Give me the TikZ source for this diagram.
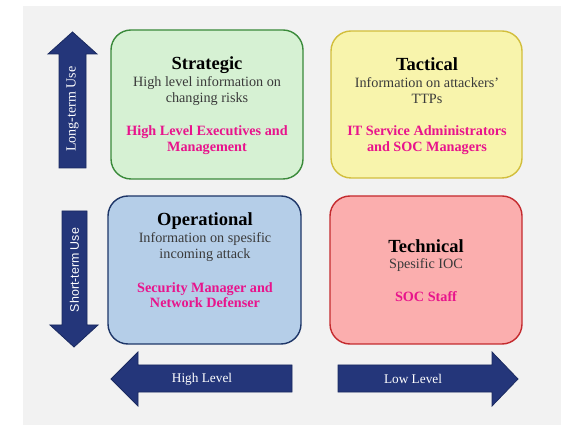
\documentclass[tikz,border=0pt]{standalone}
\usepackage{fontspec}
\setmainfont{Liberation Serif}
\setsansfont{Liberation Sans}
\definecolor{bggray}{HTML}{F2F2F2}
\definecolor{navy}{HTML}{24367A}
\definecolor{navyd}{HTML}{1A2A60}
\definecolor{gfill}{HTML}{D6F1D3}
\definecolor{gdraw}{HTML}{3A8A3A}
\definecolor{yfill}{HTML}{F8F4AC}
\definecolor{ydraw}{HTML}{D2BE3C}
\definecolor{bfill}{HTML}{B5CEE8}
\definecolor{bdraw}{HTML}{1E3668}
\definecolor{rfill}{HTML}{FBAEAE}
\definecolor{rdraw}{HTML}{C42A2E}
\definecolor{magenta}{HTML}{E8148C}
\definecolor{infotext}{HTML}{3A3A3A}
\tikzset{
  quad/.style={rounded corners=20pt, line width=1.4pt},
  bigarrow/.style={fill=navy, draw=navyd, line width=0.8pt},
  title/.style={font=\fontsize{18.5}{20}\selectfont\bfseries, text=black, inner sep=0pt},
  info/.style={font=\fontsize{14.2}{16}\selectfont, text=infotext, align=center, inner sep=0pt},
  role/.style={font=\fontsize{14.2}{15.5}\selectfont\bfseries, text=magenta, align=center, inner sep=0pt},
  arrowlabel/.style={font=\fontsize{13.3}{15}\selectfont, text=white, inner sep=0pt},
}
\begin{document}
\begin{tikzpicture}[x=1pt,y=1pt]
\useasboundingbox (0,0) rectangle (561,425);
\fill[white] (0,0) rectangle (561,425);
\fill[bggray] (23,0) rectangle (561,419);

% quadrants
\draw[quad, fill=gfill, draw=gdraw] (111,246) rectangle (303,395);
\draw[quad, fill=yfill, draw=ydraw] (331,247) rectangle (522,394);
\draw[quad, fill=bfill, draw=bdraw] (108,81) rectangle (301,229);
\draw[quad, fill=rfill, draw=rdraw] (330,81) rectangle (522,229);

% Strategic
\node[title] (strat) at (207,360) {Strategic};
\node[info] (stratinfo) at (207,334) {High level information on\\changing risks};
\node[role] (stratrole) at (207,285) {High Level Executives and\\Management};

% Tactical
\node[title] (tact) at (427,361) {Tactical};
\node[info] (tactinfo) at (427,334) {Information on attackers'\\TTPs};
\node[role] (tactrole) at (427,285) {IT Service Administrators\\and SOC Managers};

% Operational
\node[title] (oper) at (205,204) {Operational};
\node[info] (operinfo) at (205,178) {Information on spesific\\incoming attack};
\node[role] (operrole) at (205,130) {Security Manager and\\Network Defenser};

% Technical
\node[title] (tech) at (426,179) {Technical};
\node[info] (techinfo) at (426,160) {Spesific IOC};
\node[role] (techrole) at (426,128) {SOC Staff};

% vertical arrows
\draw[bigarrow] (59,257) -- (59,371) -- (48,371) -- (72.5,393) -- (97,371) -- (86,371) -- (86,257) -- cycle;
\node[font=\fontsize{14}{16}\selectfont, text=white, rotate=90, inner sep=0pt] (longterm) at (72.5,316) {Long-term Use};
\draw[bigarrow] (62,214) -- (87,214) -- (87,100) -- (98,100) -- (74,78) -- (50,100) -- (62,100) -- cycle;
\node[font=\sffamily\fontsize{12.4}{14}\selectfont, text=white, rotate=90, inner sep=0pt] (shortterm) at (74.5,155) {Short-term Use};

% horizontal arrows
\draw[bigarrow] (292,60) -- (138,60) -- (138,73) -- (111,46) -- (138,19) -- (138,33) -- (292,33) -- cycle;
\node[arrowlabel] (highlevel) at (202,46) {High Level};
\draw[bigarrow] (338,60) -- (492,60) -- (492,73) -- (518,46) -- (492,19) -- (492,33) -- (338,33) -- cycle;
\node[arrowlabel] (lowlevel) at (413,46) {Low Level};
\end{tikzpicture}
\end{document}
